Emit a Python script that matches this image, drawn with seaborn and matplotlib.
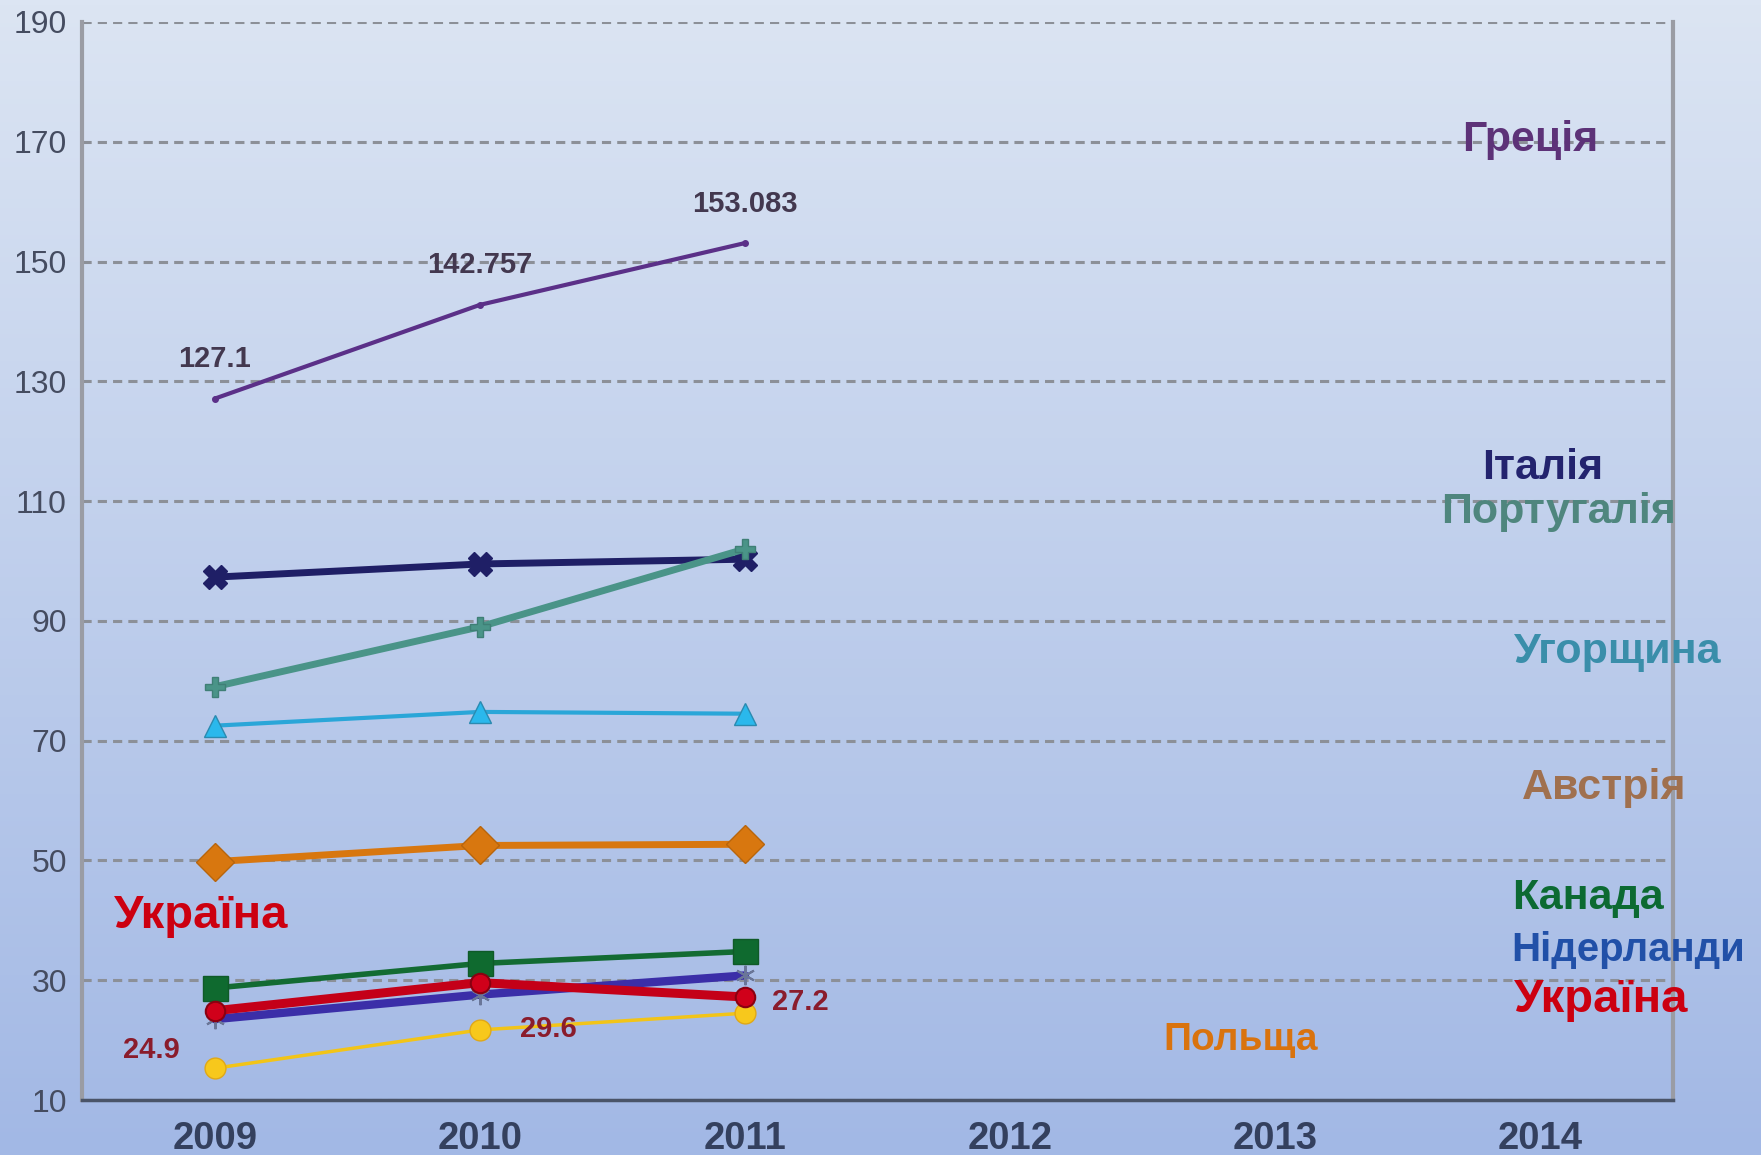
import numpy as np
import pandas as pd
import matplotlib
matplotlib.use("Agg")
import matplotlib.pyplot as plt
import seaborn as sns

# Public debt, % of GDP
years = [2009, 2010, 2011, 2012, 2013, 2014]
year_labels = ["2009", "2010", "2011", "2012", "2013", "2014"]
data_years = [2009, 2010, 2011]

greece = [127.1, 142.757, 153.083]
italy = [97.3, 99.5, 100.3]
portugal = [79.0, 89.0, 102.0]
hungary = [72.5, 74.8, 74.5]
austria = [49.8, 52.5, 52.7]
canada = [28.7, 32.8, 34.8]
netherlands = [23.5, 27.6, 30.8]
ukraine = [24.9, 29.6, 27.2]
poland = [15.3, 21.7, 24.5]

y_ticks = [10, 30, 50, 70, 90, 110, 130, 150, 170, 190]

sns.set_style("white")
plt.rcParams["font.family"] = ["Liberation Sans", "DejaVu Sans"]

fig = plt.figure(figsize=(17.61, 11.55), dpi=100)

# soft vertical gradient background
bg = fig.add_axes([0, 0, 1, 1], zorder=-10)
top = np.array([220, 229, 243]) / 255
bot = np.array([162, 184, 229]) / 255
t = np.linspace(0, 1, 256)[:, None]
grad = (top[None, :] * (1 - t) + bot[None, :] * t)[:, None, :]
bg.imshow(grad, aspect="auto", extent=[0, 1, 0, 1])
bg.axis("off")

ax = fig.add_axes([0.0466, 0.0476, 0.9034, 0.9334])
ax.set_facecolor("none")

def draw(vals, color, lw, marker, ms, mfc=None, mec=None, mew=1.0, z=3):
    df = pd.DataFrame({"year": data_years, "value": vals})
    sns.lineplot(data=df, x="year", y="value", ax=ax, color=color, lw=lw,
                 marker=marker, markersize=ms,
                 markerfacecolor=mfc if mfc else color,
                 markeredgecolor=mec if mec else color,
                 markeredgewidth=mew, zorder=z)

draw(greece, "#5b3088", 3.0, "o", 4, z=3)
draw(italy, "#1f1f66", 5.0, "X", 17, mec="#1f1f66", z=4)
draw(portugal, "#4a9488", 5.0, "P", 15, mfc="#4a9488", mec="#3f7f76", z=5)
draw(hungary, "#2aa6d8", 3.0, "^", 16, mfc="#2ab8ec", mec="#2a8ab0", z=4)
draw(austria, "#d8770f", 5.0, "D", 19, mfc="#d8770f", mec="#b8650c", z=4)
draw(netherlands, "#3b2ea8", 6.0, (6, 2, 0), 14, mfc="#7a86a8", mec="#6a7698", mew=1.5, z=4)
draw(poland, "#f2c418", 2.5, "o", 15, mfc="#f7c81c", mec="#e0a818", z=4)
draw(canada, "#136b33", 4.0, "s", 18, mfc="#0f6a2f", mec="#0f5a28", z=5)
draw(ukraine, "#c40018", 6.5, "o", 14, mfc="#d0001a", mec="#8a0010", mew=1.5, z=6)

ax.set_xlim(2008.5, 2014.5)
ax.set_ylim(10, 190)
ax.set_xlabel("")
ax.set_ylabel("")

ax.set_yticks(y_ticks)
ax.set_yticklabels([str(v) for v in y_ticks], fontsize=23, color="#454c60")
ax.set_xticks(years)
ax.set_xticklabels(year_labels, fontsize=27.5, fontweight="bold", color="#34405e")
ax.set_xticks([y + 0.5 for y in [2008] + years], minor=True)
ax.tick_params(axis="x", which="major", length=0, pad=15)
ax.tick_params(axis="x", which="minor", length=8, width=2, color="#4a5064", direction="out")
ax.tick_params(axis="y", which="major", length=6, width=2, color="#8a8e96", pad=5, direction="out")

ax.yaxis.grid(True, linestyle=(0, (3, 2)), color="#8c9098", lw=2.2, zorder=1)
ax.xaxis.grid(False)
for side in ["left", "right"]:
    ax.spines[side].set_color("#9a9ca4")
    ax.spines[side].set_linewidth(3)
ax.spines["top"].set_visible(False)
ax.spines["bottom"].set_color("#4a5468")
ax.spines["bottom"].set_linewidth(2.5)

# value labels
lab_kw = dict(fontsize=21, fontweight="bold", ha="center", va="center", zorder=8)
greece_offsets = [(0, 6.6), (0, 6.7), (0, 6.6)]
for x, v, (dx, dy) in zip(data_years, greece, greece_offsets):
    ax.text(x + dx, v + dy, f"{v:g}", color="#43384f", **lab_kw)
ukr_pos = [(2008.76, 18.4), (2010.26, 21.8), (2011.21, 26.4)]
for (x, y), v in zip(ukr_pos, ukraine):
    ax.text(x, y, f"{v:g}", color="#8a1c2c", **lab_kw)

# country names
name_kw = dict(fontweight="bold", ha="center", va="center", zorder=8)
ax.text(2013.96, 170.3, "Греція", color="#5d3278", fontsize=31, **name_kw)
ax.text(2014.01, 115.5, "Італія", color="#23236e", fontsize=31, **name_kw)
ax.text(2014.07, 108.2, "Португалія", color="#4f867e", fontsize=31, **name_kw)
ax.text(2014.29, 84.8, "Угорщина", color="#3a8eaa", fontsize=31, **name_kw)
ax.text(2014.24, 62.1, "Австрія", color="#a0704e", fontsize=31, **name_kw)
ax.text(2014.18, 43.8, "Канада", color="#0c6a32", fontsize=31, **name_kw)
ax.text(2014.33, 35.0, "Нідерланди", color="#2150a8", fontsize=29, **name_kw)
ax.text(2014.23, 26.7, "Україна", color="#cc0010", fontsize=34, **name_kw)
ax.text(2012.87, 20.0, "Польща", color="#d9730e", fontsize=28, **name_kw)
ax.text(2008.95, 40.8, "Україна", color="#cc0010", fontsize=34, **name_kw)

fig.savefig("out.png", dpi=100)
